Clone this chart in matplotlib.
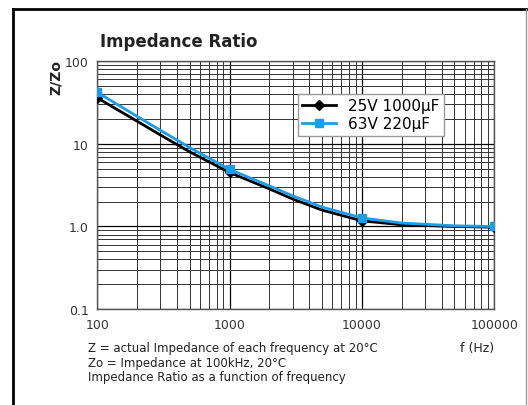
import numpy as np
import matplotlib
matplotlib.use('Agg')
import matplotlib.pyplot as plt
from matplotlib.lines import Line2D
from matplotlib.ticker import LogLocator, NullFormatter, FixedLocator, FixedFormatter

# data
freq = [100, 200, 300, 500, 1000, 2000, 3000, 5000, 10000, 20000, 50000, 100000]
z_25v_1000uf = [36, 18.8, 12.8, 8.0, 4.5, 2.85, 2.15, 1.58, 1.17, 1.05, 1.0, 0.98]
z_63v_220uf = [42, 21.5, 14.6, 9.0, 4.9, 3.1, 2.35, 1.72, 1.27, 1.1, 1.02, 1.0]
marker_idx = [0, 4, 8, 11]

x_ticks = [100, 1000, 10000, 100000]
x_labels = ['100', '1000', '10000', '100000']
y_ticks = [0.1, 1, 10, 100]
y_labels = ['0.1', '1.0', '10', '100']

plt.rcParams['font.family'] = ['DejaVu Sans']

fig = plt.figure(figsize=(5.28, 4.06), dpi=100)
ax = fig.add_axes([0.184, 0.236, 0.752, 0.611])

ax.set_xscale('log')
ax.set_yscale('log')
ax.set_xlim(100, 100000)
ax.set_ylim(0.1, 100)

ax.xaxis.set_major_locator(FixedLocator(x_ticks))
ax.xaxis.set_major_formatter(FixedFormatter(x_labels))
ax.yaxis.set_major_locator(FixedLocator(y_ticks))
ax.yaxis.set_major_formatter(FixedFormatter(y_labels))
ax.xaxis.set_minor_locator(LogLocator(base=10, subs=np.arange(2, 10)))
ax.yaxis.set_minor_locator(LogLocator(base=10, subs=np.arange(2, 10)))
ax.xaxis.set_minor_formatter(NullFormatter())
ax.yaxis.set_minor_formatter(NullFormatter())

ax.grid(True, which='major', color='black', linewidth=0.9)
ax.grid(True, which='minor', color='#333333', linewidth=0.7)
ax.tick_params(which='both', length=0, labelsize=9, colors='#333333', pad=6)
for s in ax.spines.values():
    s.set_color('#555555')
    s.set_linewidth(1.0)

ax.plot(freq, z_25v_1000uf, color='black', linewidth=2, marker='D',
        markersize=5, markevery=marker_idx, label='25V 1000\u00b5F', zorder=3)
ax.plot(freq, z_63v_220uf, color='#1e9be9', linewidth=2, marker='s',
        markersize=6, markevery=marker_idx, label='63V 220\u00b5F', zorder=4)

leg = ax.legend(loc='upper left', bbox_to_anchor=(0.486, 0.9), fontsize=11,
                fancybox=False, framealpha=1, edgecolor='#999999',
                handlelength=2.2, borderpad=0.3, labelspacing=0.2)
leg.get_frame().set_linewidth(1.0)

fig.text(0.19, 0.885, 'Impedance Ratio', fontsize=12, fontweight='bold', color='#222222')
fig.text(0.105, 0.81, 'Z/Zo', fontsize=10, fontweight='bold', rotation=90,
         ha='center', va='center', color='#222222')

fig.text(0.167, 0.132, 'Z = actual Impedance of each frequency at 20\u00b0C', fontsize=8.5, color='#222222')
fig.text(0.167, 0.097, 'Zo = Impedance at 100kHz, 20\u00b0C', fontsize=8.5, color='#222222')
fig.text(0.167, 0.062, 'Impedance Ratio as a function of frequency', fontsize=8.5, color='#222222')
fig.text(0.935, 0.132, 'f (Hz)', fontsize=9, ha='right', color='#222222')

# outer frame
fig.add_artist(Line2D([0.025, 0.996], [0.975, 0.975], color='black', linewidth=2))
fig.add_artist(Line2D([0.025, 0.025], [0.975, 0.0], color='black', linewidth=2))
fig.add_artist(Line2D([0.996, 0.996], [0.975, 0.0], color='#999999', linewidth=1))

fig.savefig('out.png', dpi=100)
